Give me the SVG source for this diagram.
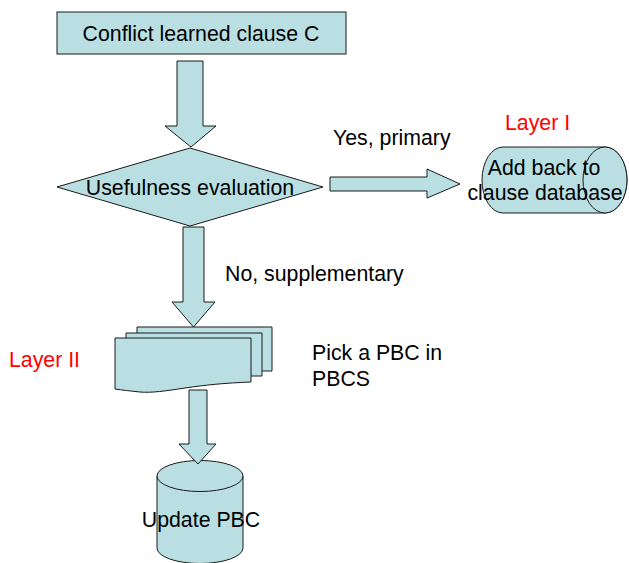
<svg xmlns="http://www.w3.org/2000/svg" width="629" height="563" viewBox="0 0 629 563">
  <style>
    .shape { fill: #B9DFE3; stroke: #1a1a1a; stroke-width: 1; }
    .arrow { fill: #B9DFE3; stroke: #1a1a1a; stroke-width: 1; stroke-linejoin: miter; }
    text { font-family: "Liberation Sans", Arial, sans-serif; font-size: 21.3px; fill: #000; }
    .mid { text-anchor: middle; }
    .red { fill: #FF0000; }
  </style>
  <rect width="629" height="563" fill="#FFFFFF"/>

  <!-- Start: conflict learned clause -->
  <g id="clause">
    <rect class="shape" x="57" y="12" width="289" height="42"/>
    <text class="mid" x="201" y="41">Conflict learned clause C</text>
  </g>

  <!-- Decision diamond -->
  <g id="evaluation">
    <polygon class="shape" points="190,148 323,187 190,226 57,187"/>
    <text class="mid" x="190" y="195">Usefulness evaluation</text>
  </g>

  <!-- Layer I: horizontal cylinder (clause database) -->
  <g id="database">
    <path class="shape" d="M503,147 H605 A22,33 0 0 1 605,213 H503 A21,33 0 0 1 503,147 Z"/>
    <ellipse class="shape" cx="605" cy="180" rx="22" ry="33"/>
    <text class="mid" x="544" y="175">Add back to</text>
    <text class="mid" x="545" y="200">clause database</text>
  </g>

  <!-- Layer II: stack of PBC documents -->
  <g id="pbcs">
    <path class="shape" d="M137,327 H272 V371 H137 Z"/>
    <path class="shape" d="M126,333 H262 V376 H126 Z"/>
    <path class="shape" d="M115,338 H251 V382 C225,383 205,385 185,388 C165,391 152,393 140,392 C130,391 122,390 115,389 Z"/>
  </g>

  <!-- Vertical cylinder: update PBC -->
  <g id="update">
    <path class="shape" d="M157,476 V548 A43,15.5 0 0 0 243,548 V476 Z"/>
    <ellipse class="shape" cx="200" cy="476" rx="43" ry="15.5"/>
    <text class="mid" x="201" y="527">Update PBC</text>
  </g>

  <!-- Block arrow connectors -->
  <g id="connectors">
    <polygon class="arrow" points="177,61 203,61 203,126 216,126 191,147 165,126 177,126"/>
    <polygon class="arrow" points="330,177 427,177 427,169 460,184 427,198 427,191 330,191"/>
    <polygon class="arrow" points="183,227 204,227 204,302 215,302 193.5,327 172,302 183,302"/>
    <polygon class="arrow" points="189,390 207,390 207,444 216,444 198,464 179,444 189,444"/>
  </g>

  <!-- Labels -->
  <g id="labels">
    <text x="333" y="145">Yes, primary</text>
    <text x="225" y="281">No, supplementary</text>
    <text x="312" y="360">Pick a PBC in</text>
    <text x="312" y="386">PBCS</text>
    <text class="red" x="505" y="130">Layer I</text>
    <text class="red" x="9" y="367">Layer II</text>
  </g>
</svg>
